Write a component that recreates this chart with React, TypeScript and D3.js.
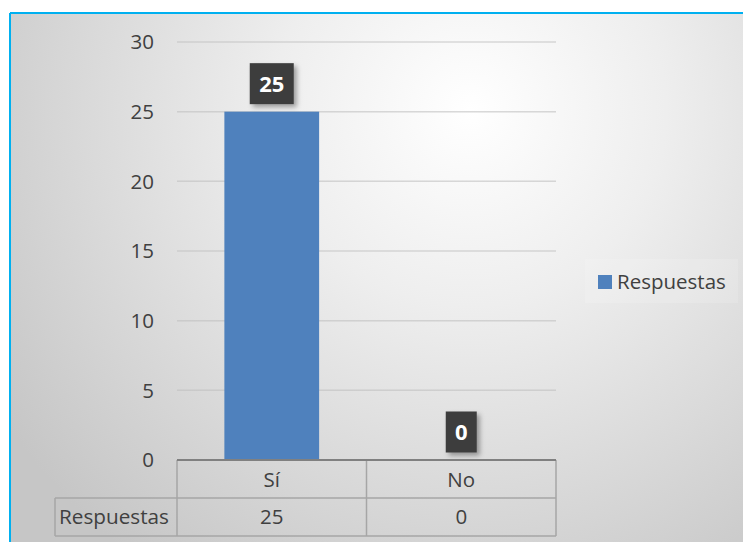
import React from "react";
import * as d3 from "d3";

const categories = ["Sí", "No"];
const values = [25, 0];
const seriesName = "Respuestas";
const yTicks = [0, 5, 10, 15, 20, 25, 30];

const W = 743;
const H = 542;
const FONT = "'Open Sans', 'Liberation Sans', sans-serif";
const FS = 20.5;

export default function App() {
  const y = d3.scaleLinear().domain([0, 30]).range([460, 42]);
  const x = d3
    .scaleBand<string>()
    .domain(categories)
    .range([177, 556])
    .paddingInner(0.5)
    .paddingOuter(0.25);
  const step = x.step();
  const colStart = (c: string) => (x(c) as number) - step * 0.25;

  const plotLeft = 177;
  const plotRight = 556;
  const rowTop = y(0);
  const rowMid = 498;
  const rowBottom = 536;
  const headerLeft = 55;

  return (
    <svg
      width={W}
      height={H}
      style={{ position: "absolute", left: 0, top: 0, display: "block" }}
    >
      <defs>
        <radialGradient
          id="bg"
          gradientUnits="userSpaceOnUse"
          cx={470}
          cy={110}
          r={560}
        >
          <stop offset="0" stopColor="#ffffff" />
          <stop offset="0.35" stopColor="#eeeeee" />
          <stop offset="1" stopColor="#c6c6c6" />
        </radialGradient>
        <filter id="shadow" x="-30%" y="-30%" width="170%" height="170%">
          <feDropShadow dx="3" dy="3" stdDeviation="2.5" floodColor="#000" floodOpacity="0.35" />
        </filter>
      </defs>
      <rect x={0} y={0} width={W} height={H} fill="#ffffff" />
      <rect x={10} y={13} width={W - 10} height={H - 13} fill="url(#bg)" />
      <line x1={10} y1={13} x2={W} y2={13} stroke="#00b0f0" strokeWidth={2} />
      <line x1={10} y1={13} x2={10} y2={H} stroke="#00b0f0" strokeWidth={2} />

      {/* gridlines */}
      {yTicks.filter((t) => t !== 0).map((t) => (
        <line
          key={"g" + t}
          x1={plotLeft}
          x2={plotRight}
          y1={y(t)}
          y2={y(t)}
          stroke="#bfbfbf"
          strokeOpacity={0.6}
          strokeWidth={1.5}
        />
      ))}
      {/* tick labels */}
      {yTicks.map((t) => (
        <text
          key={"t" + t}
          x={154}
          y={y(t)}
          dy="0.35em"
          textAnchor="end"
          fontFamily={FONT}
          fontSize={FS}
          fill="#404040"
        >
          {t}
        </text>
      ))}

      {/* bars */}
      {categories.map((c, i) => (
        <rect
          key={"b" + c}
          x={x(c)}
          y={y(values[i])}
          width={x.bandwidth()}
          height={y(0) - y(values[i])}
          fill="#4f81bd"
        />
      ))}

      {/* data labels */}
      {categories.map((c, i) => {
        const txt = String(values[i]);
        const bw = 18 + 13 * txt.length;
        const bh = 41;
        const cx = (x(c) as number) + x.bandwidth() / 2;
        const bottom = y(values[i]) - 7.5;
        return (
          <g key={"l" + c}>
            <rect
              x={cx - bw / 2}
              y={bottom - bh}
              width={bw}
              height={bh}
              fill="#3c3c3c"
              filter="url(#shadow)"
            />
            <text
              x={cx}
              y={bottom - bh / 2}
              dy="0.36em"
              textAnchor="middle"
              fontFamily={FONT}
              fontWeight="bold"
              fontSize={22}
              fill="#ffffff"
            >
              {txt}
            </text>
          </g>
        );
      })}

      {/* data table */}
      <g stroke="#a6a6a6" strokeWidth={1.5} fill="none">
        <line x1={plotLeft} x2={plotLeft} y1={rowTop} y2={rowBottom} />
        {categories.map((c) => (
          <line
            key={"v" + c}
            x1={colStart(c) + step}
            x2={colStart(c) + step}
            y1={rowTop}
            y2={rowBottom}
          />
        ))}
        <line x1={headerLeft} x2={plotRight} y1={rowMid} y2={rowMid} />
        <line x1={headerLeft} x2={plotRight} y1={rowBottom} y2={rowBottom} />
        <line x1={headerLeft} x2={headerLeft} y1={rowMid} y2={rowBottom} />
      </g>
      <line
        x1={plotLeft}
        x2={plotRight}
        y1={rowTop}
        y2={rowTop}
        stroke="#808080"
        strokeWidth={2}
      />
      {categories.map((c, i) => (
        <g key={"tc" + c}>
          <text
            x={colStart(c) + step / 2}
            y={(rowTop + rowMid) / 2 + 1}
            dy="0.35em"
            textAnchor="middle"
            fontFamily={FONT}
            fontSize={FS}
            fill="#404040"
          >
            {c}
          </text>
          <text
            x={colStart(c) + step / 2}
            y={(rowMid + rowBottom) / 2}
            dy="0.35em"
            textAnchor="middle"
            fontFamily={FONT}
            fontSize={FS}
            fill="#404040"
          >
            {values[i]}
          </text>
        </g>
      ))}
      <text
        x={headerLeft + 4}
        y={(rowMid + rowBottom) / 2}
        dy="0.35em"
        fontFamily={FONT}
        fontSize={FS}
        fill="#404040"
        textLength={110}
        lengthAdjust="spacingAndGlyphs"
      >
        {seriesName}
      </text>

      {/* legend */}
      <rect x={585} y={259} width={153} height={44} fill="#ffffff" fillOpacity={0.15} />
      <rect x={598} y={275} width={14} height={14} fill="#4f81bd" />
      <text
        x={617}
        y={282}
        dy="0.35em"
        fontFamily={FONT}
        fontSize={FS}
        fill="#404040"
      >
        {seriesName}
      </text>
    </svg>
  );
}
